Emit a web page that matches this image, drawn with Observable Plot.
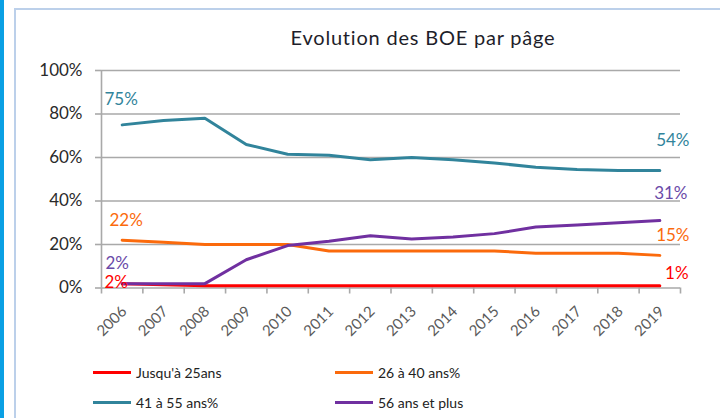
<!DOCTYPE html>
<html>
<head>
<meta charset="utf-8">
<script src="https://cdn.jsdelivr.net/npm/d3@7"></script>
<script src="https://cdn.jsdelivr.net/npm/@observablehq/plot@0.6"></script>
<style>
  html, body { margin: 0; padding: 0; background: #fff; }
  #wrap { position: relative; width: 720px; height: 418px; overflow: hidden; font-family: Lato, "Open Sans", sans-serif; }
  #strip { position: absolute; left: 0; top: 0; width: 4px; height: 418px; background: #0aa0e4; }
  #frame { position: absolute; left: 14px; top: 8px; width: 800px; height: 500px; border-left: 2px solid #bcd0ea; border-top: 2px solid #bcd0ea; }
  #title { position: absolute; left: 0; width: 846px; top: 25px; text-align: center; font-size: 20px; letter-spacing: 0.8px; color: #1e1e2a; }
  #chart { position: absolute; left: 0; top: 0; }
  #legend { position: absolute; left: 0; top: 362px; width: 720px; font-size: 14px; color: #222; }
  .item { position: absolute; display: flex; align-items: center; height: 20px; }
  .sw { width: 38px; height: 3px; margin-right: 5px; }
</style>
</head>
<body>
<div id="wrap">
  <div id="strip"></div>
  <div id="frame"></div>
  <div id="chart"></div>
  <div id="title">Evolution des BOE par pâge</div>
  <div id="legend"></div>
</div>
<script>
const years = [2006, 2007, 2008, 2009, 2010, 2011, 2012, 2013, 2014, 2015, 2016, 2017, 2018, 2019];
const seriesNames = ["Jusqu'à 25ans", "26 à 40 ans%", "41 à 55 ans%", "56 ans et plus"];
const seriesColors = ["#ff0000", "#fb6a0c", "#31849b", "#7030a0"];
const jusqua25 = [0.02, 0.015, 0.01, 0.01, 0.01, 0.01, 0.01, 0.01, 0.01, 0.01, 0.01, 0.01, 0.01, 0.01];
const ans26a40 = [0.22, 0.21, 0.20, 0.20, 0.20, 0.17, 0.17, 0.17, 0.17, 0.17, 0.16, 0.16, 0.16, 0.15];
const ans41a55 = [0.75, 0.77, 0.78, 0.66, 0.615, 0.61, 0.59, 0.60, 0.59, 0.575, 0.555, 0.545, 0.54, 0.54];
const ans56plus = [0.02, 0.02, 0.02, 0.13, 0.195, 0.215, 0.24, 0.225, 0.235, 0.25, 0.28, 0.29, 0.30, 0.31];
const yTicks = [0, 0.2, 0.4, 0.6, 0.8, 1.0];

const seriesValues = [jusqua25, ans26a40, ans41a55, ans56plus];
const rows = [];
seriesNames.forEach((s, i) => years.forEach((y, j) => rows.push({year: y, series: s, value: seriesValues[i][j]})));

const pct = d3.format(".0%");
const first = s => rows.find(r => r.series === s && r.year === years[0]);
const last = s => rows.find(r => r.series === s && r.year === years[years.length - 1]);
const boundaries = years.map(y => y - 0.5).concat([years[years.length - 1] + 0.5]);

// label placement (style, not data)
const labelSpecs = [
  {row: first(seriesNames[2]), dx: -1, dy: -25},
  {row: last(seriesNames[2]), dx: 13, dy: -30},
  {row: first(seriesNames[1]), dx: 4, dy: -20},
  {row: last(seriesNames[1]), dx: 13, dy: -20},
  {row: first(seriesNames[3]), dx: -5, dy: -20},
  {row: last(seriesNames[3]), dx: 11, dy: -27},
  {row: first(seriesNames[0]), dx: -6, dy: -1},
  {row: last(seriesNames[0]), dx: 17, dy: -12}
];
const labelColors = {"Jusqu'à 25ans": "#ff0000", "26 à 40 ans%": "#fb6a0c", "41 à 55 ans%": "#31849b", "56 ans et plus": "#6a4aa8"};

const grid = "#a9a9a9";
const plot = Plot.plot({
  width: 720,
  height: 350,
  marginLeft: 101,
  marginRight: 40,
  marginTop: 70,
  marginBottom: 62.5,
  style: {fontFamily: "Lato, 'Open Sans', sans-serif", fontSize: "13px", background: "transparent", overflow: "visible"},
  x: {domain: [years[0] - 0.5, years[years.length - 1] + 0.5]},
  y: {domain: [0, 1]},
  color: {domain: seriesNames, range: seriesColors},
  marks: [
    Plot.ruleY(yTicks, {stroke: grid, strokeWidth: 1.6}),
    Plot.ruleX([boundaries[0]], {stroke: grid, strokeWidth: 1.6}),
    Plot.axisY({ticks: yTicks, tickSize: 6, tickPadding: 13, tickFormat: pct, stroke: grid, strokeWidth: 1.6, fill: "#2a2a2a", fontSize: 17, letterSpacing: 0.6, label: null}),
    Plot.axisX({ticks: boundaries, tickSize: 6, tickFormat: () => "", stroke: grid, strokeWidth: 1.6, label: null}),
    Plot.axisX({ticks: years, tickSize: 0, tickPadding: 21, dx: 2, tickRotate: -45, tickFormat: d => String(d), fill: "#5a5a5a", fontSize: 15, label: null}),
    Plot.lineY(rows, {x: "year", y: "value", z: "series", stroke: "series", strokeWidth: 3}),
    ...labelSpecs.map(l => Plot.text([l.row], {x: "year", y: "value", text: d => pct(d.value), fill: labelColors[l.row.series], dx: l.dx, dy: l.dy, fontSize: 17, letterSpacing: 0.7}))
  ]
});
document.getElementById("chart").appendChild(plot);

const legend = document.getElementById("legend");
const pos = [[93, 0], [335, 0], [93, 30], [335, 30]];
seriesNames.forEach((s, i) => {
  const it = document.createElement("div");
  it.className = "item";
  it.style.left = pos[i][0] + "px";
  it.style.top = pos[i][1] + "px";
  const sw = document.createElement("div");
  sw.className = "sw";
  sw.style.background = seriesColors[i];
  const tx = document.createElement("span");
  tx.textContent = s;
  it.appendChild(sw);
  it.appendChild(tx);
  legend.appendChild(it);
});
</script>
</body>
</html>
